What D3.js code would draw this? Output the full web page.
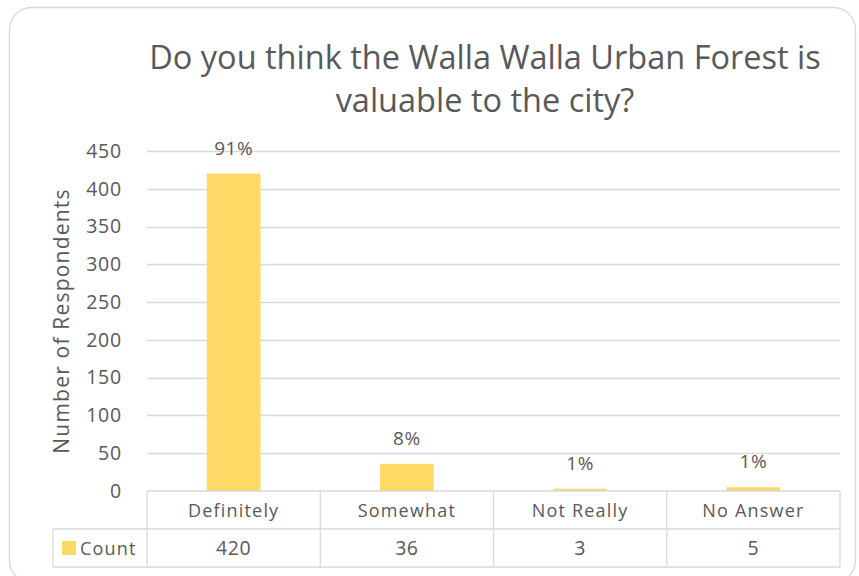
<!DOCTYPE html>
<html><head><meta charset="utf-8">
<script src="https://cdn.jsdelivr.net/npm/d3@7"></script>
<style>body{margin:0;background:#fff}svg{display:block}text{font-family:"Open Sans",sans-serif;fill:#595959}</style>
</head><body>
<script>
const categories = ["Definitely","Somewhat","Not Really","No Answer"];
const counts = [420,36,3,5];
const percentLabels = ["91%","8%","1%","1%"];
const yTicks = [0,50,100,150,200,250,300,350,400,450];
const seriesName = "Count";
const titleLines = ["Do you think the Walla Walla Urban Forest is","valuable to the city?"];
const yTitle = "Number  of Respondents";

(function(){
const W=859,H=576;
const svg=d3.select("body").append("svg").attr("width",W).attr("height",H);
svg.append("rect").attr("x",9.5).attr("y",7.5).attr("width",846).attr("height",575).attr("rx",22)
  .attr("fill","#fff").attr("stroke","#d9d9d9").attr("stroke-width",1.3);

const pL=147,pR=840,pT=151,pB=491;
const x=d3.scaleBand().domain(categories).range([pL,pR]).paddingInner(0.69).paddingOuter(0.345);
const y=d3.scaleLinear().domain([0,450]).range([pB,pT]);

svg.append("g").selectAll("line").data(yTicks.filter(d=>d>0)).join("line")
  .attr("x1",pL).attr("x2",pR).attr("y1",d=>Math.round(y(d))+0.5).attr("y2",d=>Math.round(y(d))+0.5)
  .attr("stroke","#d9d9d9").attr("stroke-width",1.3);
const ya=svg.append("g").attr("transform",`translate(${pL},0)`)
  .call(d3.axisLeft(y).tickValues(yTicks).tickSize(0).tickPadding(25));
ya.select(".domain").remove();
ya.selectAll("text").attr("font-size",19.5).attr("letter-spacing",0.8).style("font-family","'Open Sans',sans-serif").attr("fill","#595959");

svg.append("g").selectAll("rect").data(counts).join("rect")
  .attr("x",(d,i)=>x(categories[i])).attr("width",x.bandwidth())
  .attr("y",d=>y(d)).attr("height",d=>pB-y(d)).attr("fill","#FFD966");
svg.append("g").selectAll("text").data(counts).join("text")
  .attr("x",(d,i)=>x(categories[i])+x.bandwidth()/2).attr("y",d=>y(d)-19)
  .attr("text-anchor","middle").attr("font-size",19).attr("letter-spacing",0.5).text((d,i)=>percentLabels[i]);

svg.append("g").selectAll("text").data(titleLines).join("text")
  .attr("x",485).attr("y",(d,i)=>69+i*43).attr("text-anchor","middle").attr("font-size",32.5).text(d=>d);
svg.append("text").attr("transform","translate(69,321) rotate(-90)").attr("text-anchor","middle")
  .attr("font-size",21).attr("letter-spacing",1.2).text(yTitle);

const tbl=svg.append("g");
const band=(pR-pL)/categories.length;
const rowH=[pB,529,567];
const tl=53;
const lineC="#d9d9d9";
function ln(x1,y1,x2,y2){tbl.append("line").attr("x1",x1).attr("y1",y1).attr("x2",x2).attr("y2",y2).attr("stroke",lineC).attr("stroke-width",1.3);}
ln(pL,rowH[0],pR,rowH[0]);
ln(tl,rowH[1],pR,rowH[1]);
ln(tl,rowH[2],pR,rowH[2]);
ln(tl,rowH[1],tl,rowH[2]);
ln(pL,rowH[0],pL,rowH[2]);
categories.forEach((c,i)=>{ln(pL+band*(i+1),rowH[0],pL+band*(i+1),rowH[2]);});
tbl.selectAll("text.cat").data(categories).join("text").attr("class","cat")
  .attr("x",(d,i)=>pL+band*i+band/2).attr("y",517).attr("text-anchor","middle").attr("font-size",18).attr("letter-spacing",1.2).text(d=>d);
tbl.selectAll("text.val").data(counts).join("text").attr("class","val")
  .attr("x",(d,i)=>pL+band*i+band/2).attr("y",555).attr("text-anchor","middle").attr("font-size",19.5).attr("letter-spacing",0.6).text(d=>d);
tbl.append("rect").attr("x",62).attr("y",541).attr("width",14).attr("height",14).attr("fill","#FFD966");
tbl.append("text").attr("x",80).attr("y",555).attr("font-size",18).attr("letter-spacing",1.2).text(seriesName);
})();
</script>
</body></html>
